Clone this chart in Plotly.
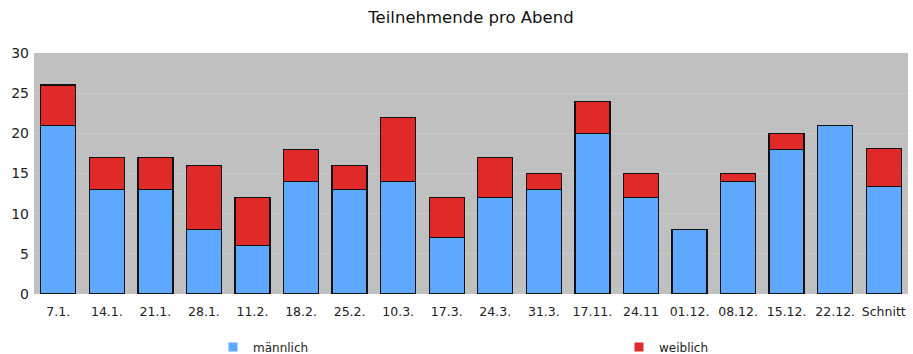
import plotly.graph_objects as go

# Teilnehmende pro Abend, aufgeteilt nach Geschlecht
abende = ["7.1.", "14.1.", "21.1.", "28.1.", "11.2.", "18.2.", "25.2.", "10.3.",
          "17.3.", "24.3.", "31.3.", "17.11.", "24.11", "01.12.", "08.12.",
          "15.12.", "22.12.", "Schnitt"]
maennlich = [21, 13, 13, 8, 6, 14, 13, 14, 7, 12, 13, 20, 12, 8, 14, 18, 21, 13.35]
weiblich = [5, 4, 4, 8, 6, 4, 3, 8, 5, 5, 2, 4, 3, 0, 1, 2, 0, 4.75]
y_ticks = [0, 5, 10, 15, 20, 25, 30]

FONT = "DejaVu Sans, Verdana, sans-serif"
BLAU = "#5fa8ff"
ROT = "#e02a2a"
BAR_LINE = dict(color="#111111", width=1.3)
LEG_FONT = dict(family=FONT, size=12, color="#222222")

fig = go.Figure()
fig.add_trace(go.Bar(x=abende, y=maennlich, name="männlich", showlegend=False,
                     marker=dict(color=BLAU, line=BAR_LINE)))
fig.add_trace(go.Bar(x=abende, y=weiblich, name="weiblich", showlegend=False,
                     marker=dict(color=ROT, line=BAR_LINE)))

# Legendeneinträge mit kleinen, randlosen Quadraten
fig.add_trace(go.Scatter(x=[None], y=[None], mode="markers", name="männlich",
                         legend="legend",
                         marker=dict(symbol="square", size=9, color=BLAU)))
fig.add_trace(go.Scatter(x=[None], y=[None], mode="markers", name="weiblich",
                         legend="legend2",
                         marker=dict(symbol="square", size=9, color=ROT)))

fig.update_layout(
    barmode="stack",
    bargap=0.28,
    width=913, height=354,
    margin=dict(l=34, r=5, t=53, b=60, autoexpand=False),
    paper_bgcolor="white",
    plot_bgcolor="#c0c0c0",
    font=dict(family=FONT, size=12, color="#222222"),
    title=dict(text="Teilnehmende pro Abend", x=0.5, xref="paper",
               xanchor="center", y=0.95, yanchor="middle",
               font=dict(family=FONT, size=16.5, color="#111111")),
    showlegend=True,
    legend=dict(orientation="h", x=213 / 913, xanchor="left",
                y=1 - 347 / 354, yanchor="middle", yref="container",
                xref="container", font=LEG_FONT, itemwidth=30,
                bgcolor="rgba(0,0,0,0)"),
    legend2=dict(orientation="h", x=619 / 913, xanchor="left",
                 y=1 - 347 / 354, yanchor="middle", yref="container",
                 xref="container", font=LEG_FONT, itemwidth=30,
                 bgcolor="rgba(0,0,0,0)"),
    xaxis=dict(showgrid=False, ticks="", tickfont=dict(size=12.5),
               showline=False, zeroline=False, ticklabelstandoff=8),
    yaxis=dict(range=[0, 30], tickvals=y_ticks, showgrid=True,
               gridcolor="#cbcbcb", gridwidth=1, zeroline=False,
               tickfont=dict(size=14, color="#222222"), ticks="",
               ticklabelstandoff=4),
)

fig.write_html("out.html")
